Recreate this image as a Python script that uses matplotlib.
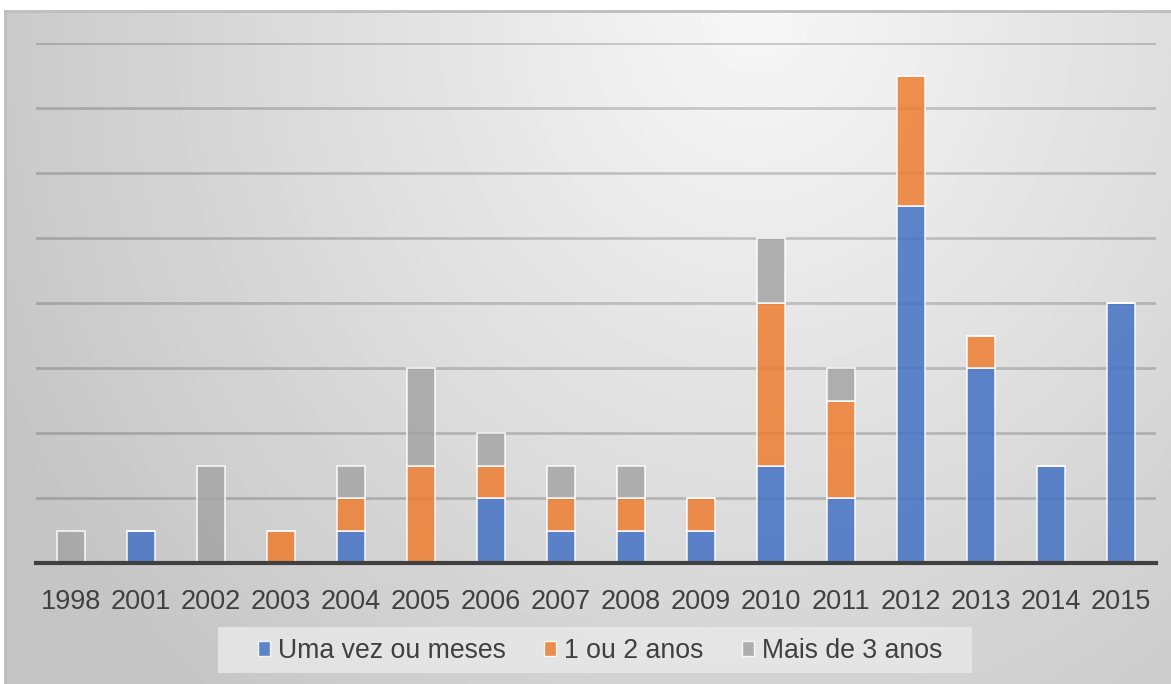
import matplotlib.pyplot as plt
import numpy as np
from matplotlib.patches import Patch, Rectangle

years = ['1998', '2001', '2002', '2003', '2004', '2005', '2006', '2007',
         '2008', '2009', '2010', '2011', '2012', '2013', '2014', '2015']
uma_vez = [0, 1, 0, 0, 1, 0, 2, 1, 1, 1, 3, 2, 11, 6, 3, 8]
um_dois_anos = [0, 0, 0, 1, 1, 3, 1, 1, 1, 1, 5, 3, 4, 1, 0, 0]
mais_tres = [1, 0, 3, 0, 1, 3, 1, 1, 1, 0, 2, 1, 0, 0, 0, 0]

labels = ['Uma vez ou meses', '1 ou 2 anos', 'Mais de 3 anos']
colors = ['#4472C4', '#ED7D31', '#A5A5A5']

plt.rcParams['font.family'] = ['Liberation Sans', 'DejaVu Sans']

W, H = 1171, 684
fig = plt.figure(figsize=(W / 100, H / 100), dpi=100)
fig.patch.set_facecolor('white')

# radial grey background of the chart area
bg = fig.add_axes([5 / W, 0, (W - 5) / W, (H - 11) / H])
yy, xx = np.mgrid[0:673, 0:1166]
r = np.sqrt(((xx - 750) / 800.0) ** 2 + (yy / 900.0) ** 2)
shade = np.clip(0.97 - 0.19 * r, 0.77, 1.0)
bg.imshow(shade, cmap='gray', vmin=0, vmax=1, aspect='auto',
          extent=[0, 1166, 673, 0], interpolation='bilinear')
bg.set_xticks([])
bg.set_yticks([])
for side, sp in bg.spines.items():
    sp.set_color('#bdbdbd')
    sp.set_linewidth(2)
    if side in ('right', 'bottom'):
        sp.set_visible(False)

# light panel behind the legend
bg.add_patch(Rectangle((213, 616), 754, 46, facecolor='#e8e8e8', alpha=0.85,
                       edgecolor='none', zorder=5))

ax = fig.add_axes([36 / W, 121 / H, (1156 - 36) / W, (563 - 43) / H])
ax.set_facecolor('none')

x = np.arange(len(years))
bottom = np.zeros(len(years))
for vals, c in zip([uma_vez, um_dois_anos, mais_tres], colors):
    vals = np.array(vals)
    ax.bar(x, vals, width=0.4, bottom=bottom, color=c, alpha=0.85,
           edgecolor=(1, 1, 1, 0.6), linewidth=1.2, zorder=3)
    bottom += vals

ax.set_xlim(-0.5, len(years) - 0.5)
ax.set_ylim(0, 16)
ax.set_yticks(np.arange(2, 17, 2))
ax.yaxis.grid(True, color='black', alpha=0.18, linewidth=2)
ax.set_axisbelow(True)
ax.tick_params(axis='y', length=0, labelleft=False)
ax.set_xticks(x)
ax.set_xticklabels(years, fontsize=19.5, color='#404040')
ax.tick_params(axis='x', length=0, pad=19)
for side in ('top', 'right', 'left'):
    ax.spines[side].set_visible(False)
ax.spines['bottom'].set_color('#404040')
ax.spines['bottom'].set_linewidth(3)
ax.spines['bottom'].set_zorder(4)

handles = [Patch(facecolor=c, edgecolor=(1, 1, 1, 0.6), alpha=0.85) for c in colors]
leg = fig.legend(handles, labels, loc='center', bbox_to_anchor=(600 / W, 1 - 651 / H),
                 ncol=3, fontsize=19.2, frameon=False,
                 handlelength=0.45, handleheight=0.45, handletextpad=0.3,
                 columnspacing=1.45, borderpad=0.4, borderaxespad=0)
for t in leg.get_texts():
    t.set_color('#404040')

fig.savefig('out.png', dpi=100)
